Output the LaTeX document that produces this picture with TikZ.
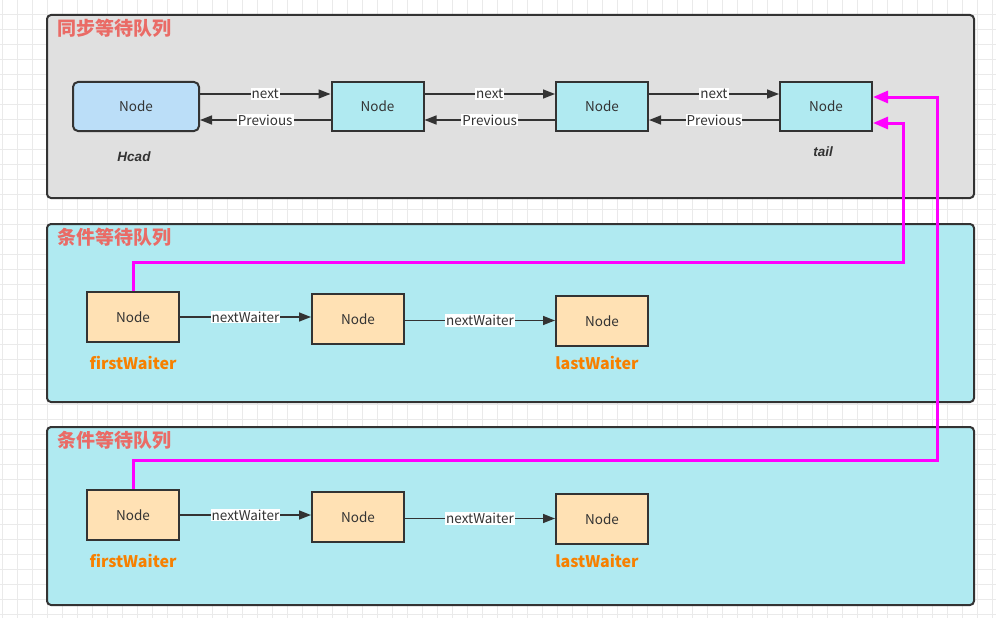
\documentclass[tikz,border=0pt]{standalone}
\usepackage{fontspec}
\setmainfont{Noto Sans CJK SC}
\newfontfamily\itfont{Liberation Sans}
\usetikzlibrary{arrows.meta}
\definecolor{gridc}{RGB}{234,234,234}
\definecolor{edgec}{RGB}{51,51,51}
\definecolor{grayfill}{RGB}{224,224,224}
\definecolor{cyanfill}{RGB}{176,234,241}
\definecolor{headfill}{RGB}{187,222,248}
\definecolor{orangefill}{RGB}{255,225,180}
\definecolor{titlec}{RGB}{234,107,102}
\definecolor{orangetext}{RGB}{247,128,0}
\definecolor{magc}{RGB}{255,0,255}
\tikzset{
  container/.style={draw=edgec, line width=2pt, rounded corners=4pt, inner sep=0pt},
  titletext/.style={anchor=west, text=titlec, font=\fontsize{19}{21}\selectfont\bfseries, inner sep=0pt},
  qnode/.style={draw=edgec, line width=2pt, fill=cyanfill, minimum width=92pt, minimum height=49pt, inner sep=0pt, text=edgec, font=\fontsize{13.5}{15}\selectfont},
  headnode/.style={qnode, fill=headfill, rounded corners=5pt, minimum width=126pt},
  wnode/.style={qnode, fill=orangefill, minimum height=50pt},
  link/.style={draw=edgec, line width=1.5pt, -{Triangle[length=12pt,width=9pt]}},
  lbl/.style={fill=white, inner sep=1pt, text=edgec, font=\fontsize{13.5}{15}\selectfont},
  waitlabel/.style={text=orangetext, font=\fontsize{16}{18}\selectfont\bfseries, inner sep=0pt},
  italabel/.style={text=edgec, font=\itfont\fontsize{13.5}{15}\selectfont\bfseries\itshape, inner sep=0pt},
  mag/.style={draw=magc, line width=3pt, -{Triangle[length=15pt,width=12pt]}}
}
\begin{document}
\begin{tikzpicture}[x=1pt,y=-1pt]
\useasboundingbox (0,0) rectangle (996,618);
\fill[white] (0,0) rectangle (996,618);
\foreach \gx in {2,17,...,996} \draw[gridc, line width=0.8pt] (\gx,0) -- (\gx,618);
\foreach \gy in {14,29,...,618} \draw[gridc, line width=0.8pt] (0,\gy) -- (996,\gy);

% containers
\node[container, fill=grayfill, minimum width=927pt, minimum height=183pt] (sync) at (510.5,106.5) {};
\node[container, fill=cyanfill, minimum width=927pt, minimum height=178pt] (condA) at (510.5,313) {};
\node[container, fill=cyanfill, minimum width=927pt, minimum height=178pt] (condB) at (510.5,516) {};

\node[titletext] (t1) at (57,28) {同步等待队列};
\node[titletext] (t2) at (57,237) {条件等待队列};
\node[titletext] (t3) at (57,440) {条件等待队列};

% sync queue
\node[headnode] (head) at (136,106.5) {Node};
\node[qnode] (n2) at (377.5,106.5) {Node};
\node[qnode] (n3) at (602,106.5) {Node};
\node[qnode] (tail) at (826,106.5) {Node};

\node[italabel] (hl) at (134,157) {Hcad};
\node[italabel] (tl) at (823,152) {tail};

\foreach \a/\b in {head/n2, n2/n3, n3/tail} {
  \draw[link] ([yshift=12.5pt]\a.east) -- node[lbl] {next} ([yshift=12.5pt]\b.west);
  \draw[link] ([yshift=-13.5pt]\b.west) -- node[lbl] {Previous} ([yshift=-13.5pt]\a.east);
}

% condition queue A
\node[wnode] (a1) at (133,317) {Node};
\node[wnode] (a2) at (358,319) {Node};
\node[wnode] (a3) at (602,321) {Node};
\node[waitlabel] (a1l) at (133,363) {firstWaiter};
\node[waitlabel] (a3l) at (597,363) {lastWaiter};
\draw[link] (a1.east) -- node[lbl] {nextWaiter} (a1.east -| a2.west);
\draw[link] ([yshift=-1.5pt]a2.east) -- node[lbl] {nextWaiter} ([yshift=-1.5pt]a2.east -| a3.west);

% condition queue B
\node[wnode] (b1) at (133,515) {Node};
\node[wnode] (b2) at (358,517) {Node};
\node[wnode] (b3) at (602,519) {Node};
\node[waitlabel] (b1l) at (133,561) {firstWaiter};
\node[waitlabel] (b3l) at (597,561) {lastWaiter};
\draw[link] (b1.east) -- node[lbl] {nextWaiter} (b1.east -| b2.west);
\draw[link] ([yshift=-1.5pt]b2.east) -- node[lbl] {nextWaiter} ([yshift=-1.5pt]b2.east -| b3.west);

% magenta links
\draw[mag] (a1.north) |- (903,262) |- ([yshift=-16.5pt]tail.east);
\draw[mag] (b1.north) |- (937,460) |- ([yshift=9.5pt]tail.east);
\end{tikzpicture}
\end{document}
